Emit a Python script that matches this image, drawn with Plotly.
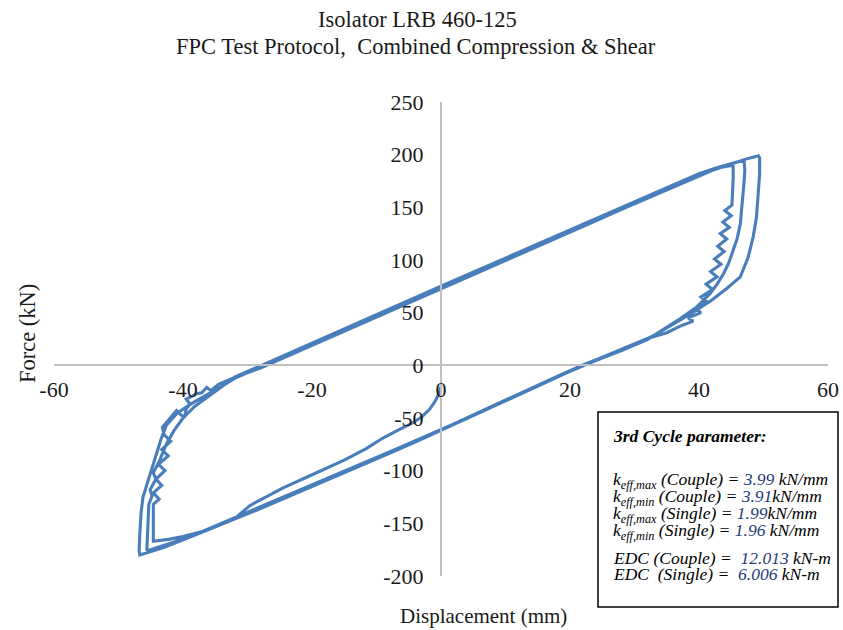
import plotly.graph_objects as go

# ---------------- data ----------------
# initial loading from rest towards negative displacement
start_x = [0.0, -0.3, -1.0, -1.8, -3.0, -4.5, -6.5, -9.0, -11.6, -15.0, -19.3, -24.4, -29.6]
start_y = [-20, -27, -35, -42, -49, -55, -61, -69, -79, -90, -102, -116, -133]

# cycle 1 (outer loop)
lower1_x = [-32, -36, -40, -43, -46.7]
lower1_y = [-145.5, -156, -166, -173, -180]
load1_x = [-46.8, -46.7, -46.5, -46.2, -45.6, -44.9, -44.2, -43.4, -42.6, -41.0, -38.9, -36.5, -34.0]
load1_y = [-176, -160, -140, -125, -113, -98, -84, -70, -57, -46, -37, -29, -20]
upper1_x = [-32, -28, -24, -20, -16, -12, -8, -4, 0, 4, 8, 12, 16, 20, 24, 28, 32, 36, 40, 43, 45, 47, 48.5, 49.2]
upper1_y = [-12.4, -1.6, 9.2, 20.4, 30.8, 41.9, 52.2, 63.5, 73.8, 85.0, 95.2, 106.5, 116.8, 128.0, 138.3, 149.6, 159.8, 171.0, 181.2, 187.5, 191.5, 195.3, 197.8, 199.0]
unload1_x = [49.4, 49.4, 49.2, 48.9, 48.4, 47.6, 46.4, 44.3, 42.0, 39.0, 36.0]
unload1_y = [197, 182, 165, 140, 122, 102, 84, 73, 62, 50, 39]

# cycle 2 (middle loop)
lower2_x = [33, 30, 26, 22, 18, 14, 10, 6, 2, -2, -6, -10, -14, -18, -22, -26, -30, -34, -38, -41, -43.5, -45.5]
lower2_y = [28.5, 19.5, 9.8, 0.3, -10.5, -21.5, -32.8, -44.3, -55.6, -66.5, -77.0, -87.4, -97.8, -108.5, -118.7, -129.2, -139.6, -150.0, -160.3, -167.0, -172.0, -176.0]
load2_x = [-45.6, -45.5, -45.4, -45.3, -44.8, -45.1, -44.2, -44.6, -43.6, -42.6, -41.4, -40.0, -38.2, -36.0, -33.5]
load2_y = [-175, -160, -145, -132, -124, -118, -108, -102, -90, -75, -62, -50, -39, -29, -18]
upper2_x = [-32, -28, -24, -20, -16, -12, -8, -4, 0, 4, 8, 12, 16, 20, 24, 28, 32, 36, 40, 43, 45, 46.5, 47.0]
upper2_y = [-11.2, -0.5, 10.4, 21.3, 31.9, 42.9, 53.4, 64.4, 75.1, 85.8, 96.5, 107.4, 118.0, 128.9, 139.5, 150.3, 161.0, 171.9, 182.0, 188.0, 191.5, 193.8, 194.8]
unload2_x = [47.0, 47.1, 47.0, 46.8, 46.4, 45.9, 45.3, 44.6, 43.8, 42.8, 41.7, 39.6, 37.0, 34.5]
unload2_y = [194, 185, 175, 160, 134, 120, 109, 97, 87, 77, 68, 55, 44, 34]

# cycle 3 (inner loop, with stepped branches)
lower3_x = [32, 28, 24, 20, 16, 12, 8, 4, 0, -4, -8, -12, -16, -20, -24, -28, -32, -36, -40, -42, -44.6]
lower3_y = [24.5, 14.0, 4.5, -5.8, -17.0, -28.2, -39.6, -51.0, -62.0, -72.8, -83.5, -93.8, -104.5, -115.0, -125.5, -136.0, -146.3, -156.0, -162.5, -165.0, -167.0]
load3_x = [-44.6, -44.6, -44.6, -43.7, -44.6, -43.3, -44.2, -42.8, -43.8, -42.3, -43.3, -41.9, -42.9, -43.2, -41.0, -39.8, -39.5, -38.9, -39.5, -37.9, -37.1, -36.3, -35.7, -34.5, -32.0]
load3_y = [-167, -150, -132, -127, -121, -114, -108, -100, -94, -86, -80, -72, -66, -59, -43, -50, -41, -37, -32, -27, -26, -21, -24, -18, -11.5]
upper3_x = [-28, -24, -20, -16, -12, -8, -4, 0, 4, 8, 12, 16, 20, 24, 28, 32, 36, 40, 42, 43.5, 44.5, 45.2]
upper3_y = [-2.6, 8.3, 19.2, 29.7, 40.6, 51.1, 62.0, 72.6, 83.5, 94.1, 105.0, 115.6, 126.5, 137.2, 148.0, 158.6, 169.6, 180.2, 185.0, 188.0, 189.5, 190.5]
unload3_x = [45.3, 45.3, 45.2, 45.1, 44.0, 45.0, 43.7, 44.7, 43.3, 44.3, 42.9, 43.9, 42.4, 43.4, 41.8, 42.8, 41.1, 42.1, 40.3, 41.3, 39.3, 40.3, 38.3, 39.1, 37.0, 35.0]
unload3_y = [190, 178, 165, 152, 147, 142, 136, 131, 125, 120, 113, 108, 101, 96, 89, 84, 77, 72, 65, 60, 54, 50, 45, 42, 37, 31]
final_x = [32, 28, 24, 20, 16, 12, 8, 5]
final_y = [25.5, 15.0, 5.2, -5.0, -16.2, -27.4, -38.8, -47.5]

x_ticks = [-60, -40, -20, 0, 20, 40, 60]
x_ticktext = ["-60", "-40", "-20", "0", "20", "40", "60"]
y_ticks = [-200, -150, -100, -50, 0, 50, 100, 150, 200, 250]
y_ticktext = ["-200", "-150", "-100", "-50", "0", "50", "100", "150", "200", "250"]

title_lines = ["Isolator LRB 460-125", "FPC Test Protocol,\u00a0 Combined Compression &amp; Shear"]
x_title = "Displacement (mm)"
y_title = "Force (kN)"

box_header = "3rd Cycle parameter:"
param_labels = ["k<sub>eff,max</sub> (Couple) = ", "k<sub>eff,min</sub> (Couple) = ",
                "k<sub>eff,max</sub> (Single) = ", "k<sub>eff,min</sub> (Single) = ",
                "EDC (Couple) = \u00a0", "EDC \u00a0(Single) = \u00a0"]
param_values = ["3.99", "3.91", "1.99", "1.96", "12.013", "6.006"]
param_units = [" kN/mm", "kN/mm", "kN/mm", " kN/mm", " kN-m", " kN-m"]

# ---------------- build path ----------------
disp = (start_x + lower1_x + load1_x + upper1_x + unload1_x + lower2_x + load2_x + upper2_x
        + unload2_x + lower3_x + load3_x + upper3_x + unload3_x + final_x)
force = (start_y + lower1_y + load1_y + upper1_y + unload1_y + lower2_y + load2_y + upper2_y
         + unload2_y + lower3_y + load3_y + upper3_y + unload3_y + final_y)

W, H = 843, 630
L, R, T, B = 54, 828, 102, 576  # plot area in window pixels


def fx(px):
    return (px - L) / (R - L)


def fy(py):
    return (B - py) / (B - T)


FONT = "Liberation Serif, Times New Roman, serif"
TXT = "#1a1a1a"
BLUE_TXT = "#1F3A7A"

fig = go.Figure()
fig.add_trace(go.Scatter(x=disp, y=force, mode="lines",
                         line=dict(color="#4A7EBB", width=3.1), showlegend=False,
                         hoverinfo="skip"))

axis_common = dict(showgrid=False, zeroline=False, showline=True, linecolor="#BFBFBF",
                   linewidth=2, ticks="", tickfont=dict(family=FONT, size=22, color=TXT),
                   anchor="free", fixedrange=True, tickmode="array")

fig.update_layout(
    width=W, height=H,
    margin=dict(l=L, r=(W - R), t=T, b=(H - B), autoexpand=False),
    paper_bgcolor="white", plot_bgcolor="white",
    xaxis=dict(range=[-60, 60], tickvals=x_ticks, ticktext=x_ticktext, position=fy(364.5),
               ticklabelstandoff=5, **axis_common),
    yaxis=dict(range=[-200, 250], tickvals=y_ticks, ticktext=y_ticktext, position=0.5,
               ticklabelstandoff=12, **axis_common),
)

ann = []
ann.append(dict(text=title_lines[0], x=fx(417), y=fy(19), xref="paper", yref="paper",
                showarrow=False, font=dict(family=FONT, size=22.5, color=TXT),
                xanchor="center", yanchor="middle"))
ann.append(dict(text=title_lines[1], x=fx(416), y=fy(46), xref="paper", yref="paper",
                showarrow=False, font=dict(family=FONT, size=22.5, color=TXT),
                xanchor="center", yanchor="middle"))
ann.append(dict(text=x_title, x=fx(483), y=fy(616), xref="paper", yref="paper",
                showarrow=False, font=dict(family=FONT, size=21, color=TXT),
                xanchor="center", yanchor="middle"))
ann.append(dict(text=y_title, x=fx(27), y=fy(334), xref="paper", yref="paper", textangle=-90,
                showarrow=False, font=dict(family=FONT, size=22.5, color=TXT),
                xanchor="center", yanchor="middle"))

ann.append(dict(text="<b><i>" + box_header + "</i></b>", x=fx(611), y=fy(436),
                xref="paper", yref="paper", showarrow=False,
                font=dict(family=FONT, size=17.5, color="black"), xanchor="left", yanchor="middle"))
line_y = [480, 497, 514, 531, 558, 574]
for lab, val, unit, py in zip(param_labels, param_values, param_units, line_y):
    txt = ("<i>" + lab + "<span style='color:" + BLUE_TXT + "'>" + val + "</span>" + unit + "</i>")
    ann.append(dict(text=txt, x=fx(611), y=fy(py), xref="paper", yref="paper", showarrow=False,
                    font=dict(family=FONT, size=17.5, color="black"), xanchor="left",
                    yanchor="middle"))

fig.update_layout(annotations=ann)
fig.add_shape(type="rect", xref="paper", yref="paper", x0=fx(598), x1=fx(838), y0=fy(607),
              y1=fy(412), line=dict(color="black", width=1.5), fillcolor="white", layer="above")

fig.write_html("out.html", config={"displayModeBar": False},
               post_script="document.body.style.margin='0px';document.body.style.overflow='hidden';")
